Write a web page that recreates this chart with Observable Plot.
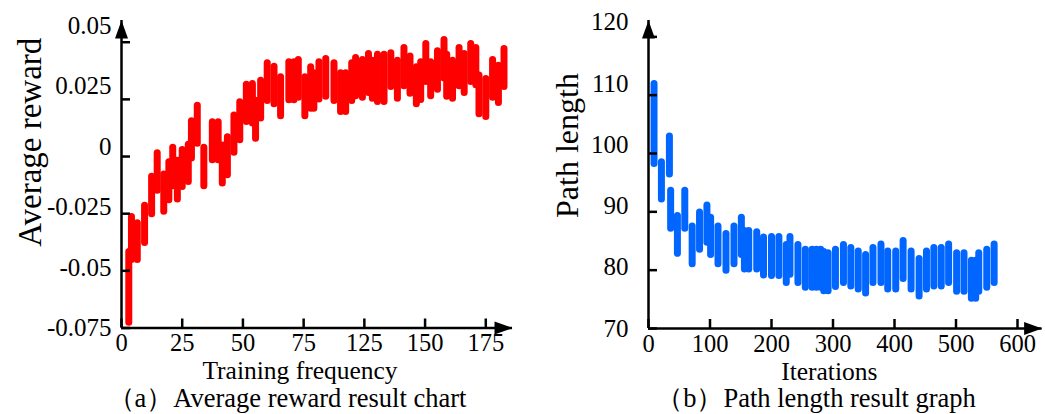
<!DOCTYPE html>
<html><head><meta charset="utf-8">
<script src="https://cdn.jsdelivr.net/npm/d3@7"></script>
<script src="https://cdn.jsdelivr.net/npm/@observablehq/plot@0.6"></script>
<style>
body{margin:0;background:#fff;}
#wrap{position:relative;width:1045px;height:414px;overflow:hidden;font-family:"Liberation Serif","Times New Roman",serif;background:#fff;}
#a{position:absolute;left:0;top:0;}
#b{position:absolute;left:522px;top:0;}
.cap{position:absolute;top:384px;font-size:26.5px;white-space:nowrap;transform:translateX(-50%);line-height:28px;color:#000;}
</style></head><body>
<div id="wrap"><div id="a"></div><div id="b"></div>
<div class="cap" style="left:287px">（a）Average reward result chart</div>
<div class="cap" style="left:816px">（b）Path length result graph</div></div>
<script>
// ---- Chart (a): average reward ----
const rewardX = [3.0,4.1,6.5,9.5,12.4,14.7,17.4,19.5,21.1,23.0,25.0,27.5,28.8,31.2,33.9,37.4,39.8,41.5,43.6,46.3,48.7,51.4,53.9,55.2,57.3,60.0,62.8,65.5,68.9,71.0,72.8,75.5,77.9,79.2,81.3,84.1,87.5,90.2,92.3,94.8,96.4,99.2,101.7,103.3,105.4,108.1,110.9,113.6,116.3,118.8,121.4,123.2,125.3,127.3,130.1,132.8,133.9,136.3,139.0,141.1,143.8,145.9,147.2,150.0,152.8,155.2,157.5];
const rewardHi = [-0.0418,-0.0265,-0.0292,-0.0215,-0.0088,0.0014,-0.0079,-0.0025,0.0038,-0.0018,0.0029,0.0052,0.0154,0.0222,0.0038,0.0150,0.0150,0.0048,0.0084,0.0179,0.0237,0.0314,0.0317,0.0244,0.0332,0.0408,0.0393,0.0347,0.0412,0.0412,0.0422,0.0347,0.0390,0.0364,0.0412,0.0427,0.0408,0.0364,0.0364,0.0408,0.0431,0.0422,0.0448,0.0419,0.0445,0.0445,0.0452,0.0419,0.0475,0.0437,0.0390,0.0412,0.0492,0.0412,0.0460,0.0510,0.0445,0.0419,0.0475,0.0448,0.0492,0.0475,0.0354,0.0339,0.0422,0.0397,0.0470];
const rewardLo = [-0.0727,-0.0453,-0.0453,-0.0378,-0.0252,-0.0150,-0.0242,-0.0191,-0.0130,-0.0188,-0.0133,-0.0111,-0.0009,0.0056,-0.0130,-0.0016,-0.0016,-0.0118,-0.0082,0.0016,0.0071,0.0151,0.0144,0.0078,0.0166,0.0243,0.0229,0.0176,0.0246,0.0246,0.0257,0.0176,0.0209,0.0209,0.0249,0.0261,0.0243,0.0195,0.0195,0.0243,0.0264,0.0257,0.0278,0.0253,0.0239,0.0239,0.0304,0.0253,0.0307,0.0275,0.0229,0.0247,0.0326,0.0264,0.0292,0.0341,0.0261,0.0253,0.0307,0.0278,0.0326,0.0312,0.0185,0.0173,0.0257,0.0234,0.0304];
const rewardXTicks = [0,25,50,75,100,125,150];
const rewardXLabels = ["0","25","50","75","125","150","175"];
const rewardYTicks = [-0.075,-0.05,-0.025,0,0.025,0.05];
const rewardYLabels = ["-0.075","-0.05","-0.025","0","0.025","0.05"];

// ---- Chart (b): path length ----
const pathX = [9,21,34,36,47,59,71,83,95,101,113,126,139,151,156,163,176,187,200,212,224,230,243,255,266,273,280,285,292,304,317,329,341,353,365,378,389,402,414,427,440,452,464,476,488,501,513,525,532,537,550,562];
const pathHi = [111.9,98.5,102.9,93.6,89.3,93.6,87.5,89.9,91.1,89.0,87.5,86.2,87.5,89.0,86.7,86.7,86.5,85.6,85.7,85.7,84.3,85.7,84.3,83.5,83.5,83.5,83.5,83.1,82.9,83.5,84.3,83.8,83.2,82.6,83.8,84.4,83.2,83.2,85.0,83.2,81.9,83.2,83.8,83.8,84.4,82.9,82.9,81.6,81.6,82.9,83.5,84.4];
const pathLo = [98.2,92.1,96.4,87.1,82.8,87.1,81.0,83.5,84.7,82.6,81.0,79.9,81.0,82.6,80.1,80.1,80.1,79.1,79.0,79.0,77.8,79.2,77.8,77.0,77.0,77.0,77.0,76.4,76.4,77.1,77.8,77.2,76.7,76.0,77.8,77.8,76.7,76.7,78.5,76.7,75.5,76.7,77.2,77.2,77.8,76.3,76.3,75.1,75.1,76.3,77.0,77.8];
const pathXTicks = [0,100,200,300,400,500,600];
const pathYTicks = [70,80,90,100,110,120];

const reward = rewardX.map((x,i)=>({x, hi: rewardHi[i], lo: rewardLo[i]}));
const path = pathX.map((x,i)=>({x, hi: pathHi[i], lo: pathLo[i]}));

const serif = '"Liberation Serif","Times New Roman",serif';
const arrowRight = {draw(c){c.moveTo(0,0);c.lineTo(-18,-6.5);c.lineTo(-18,6.5);c.closePath();}};
const arrowUp = {draw(c){c.moveTo(0,0);c.lineTo(-6.5,18);c.lineTo(6.5,18);c.closePath();}};
const AX = 2.5;

// y tick labels sit slightly more spread out than the tick marks (as in the original figure)
function frameMarks(xDom, yDom, xTicks, xFmt, yTicks, yFmt, labelSpread, yPad) {
  return [
    Plot.ruleY([yDom[0]], {stroke:"black", strokeWidth:AX}),
    Plot.ruleX([xDom[0]], {stroke:"black", strokeWidth:AX}),
    Plot.axisX(xTicks, {tickSize:-9, tickFormat:()=>"", strokeWidth:AX, label:null}),
    Plot.axisX(xTicks, {tickSize:0, tickPadding:6, tickFormat:xFmt, fontSize:24.5, fill:"black", label:null}),
    Plot.axisY(yTicks, {tickSize:-9, tickFormat:()=>"", strokeWidth:AX, label:null}),
    ...yTicks.map((t, i) => Plot.axisY([t], {tickSize:0, tickPadding:yPad, tickFormat:yFmt, dy:-labelSpread*i, fontSize:25, fill:"black", label:null})),
    Plot.dot([0], {frameAnchor:"bottom-right", symbol:arrowRight, fill:"black", stroke:"none"}),
    Plot.dot([0], {frameAnchor:"top-left", symbol:arrowUp, fill:"black", stroke:"none"})
  ];
}

const plotA = Plot.plot({
  width: 522, height: 385,
  marginLeft: 121, marginRight: 10, marginTop: 20, marginBottom: 57.5,
  style: {fontFamily: serif, fontSize: "25px", color: "black", background: "white"},
  x: {domain: [0, 161], axis: null},
  y: {domain: [-0.075, 0.0595], axis: null},
  marks: [
    Plot.ruleX(reward, {x:"x", y1:"lo", y2:"hi", stroke:"#ff0000", strokeWidth:7, strokeLinecap:"round"}),
    ...frameMarks([0,161], [-0.075,0.0595], rewardXTicks, d=>rewardXLabels[rewardXTicks.indexOf(d)],
                  rewardYTicks, d=>rewardYLabels[rewardYTicks.indexOf(d)], 3.3, 10),
    Plot.text(["Training frequency"], {text:d=>d, frameAnchor:"bottom", textAnchor:"middle", lineAnchor:"middle", dx:-17, dy:43, fontSize:25.5, fill:"black"}),
    Plot.text(["Average reward"], {text:d=>d, frameAnchor:"left", textAnchor:"middle", lineAnchor:"middle", rotate:-90, dx:-91, dy:-32, fontSize:33, fill:"black"})
  ]
});
document.getElementById("a").appendChild(plotA);

const plotB = Plot.plot({
  width: 523, height: 385,
  marginLeft: 126, marginRight: 3.4, marginTop: 20, marginBottom: 57,
  style: {fontFamily: serif, fontSize: "25px", color: "black", background: "white"},
  x: {domain: [0, 640], axis: null},
  y: {domain: [70, 122.8], axis: null},
  marks: [
    Plot.ruleX(path, {x:"x", y1:"lo", y2:"hi", stroke:"#0066ff", strokeWidth:7, strokeLinecap:"round"}),
    ...frameMarks([0,640], [70,122.8], pathXTicks, d=>String(d), pathYTicks, d=>String(d), 2.9, 20),
    Plot.text(["Iterations"], {text:d=>d, frameAnchor:"bottom", textAnchor:"middle", lineAnchor:"middle", dx:-16, dy:43, fontSize:25.5, fill:"black"}),
    Plot.text(["Path length"], {text:d=>d, frameAnchor:"left", textAnchor:"middle", lineAnchor:"middle", rotate:-90, dx:-81, dy:-29, fontSize:32, fill:"black"})
  ]
});
document.getElementById("b").appendChild(plotB);
</script>
</body></html>
